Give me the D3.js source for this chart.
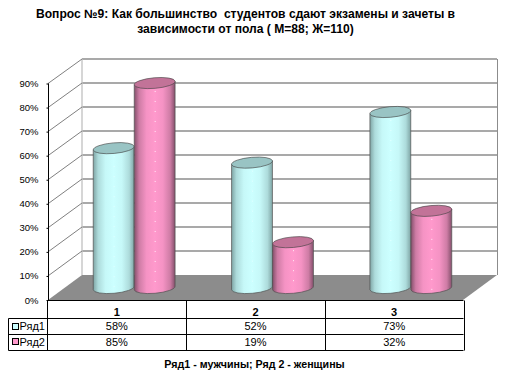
<!DOCTYPE html>
<html>
<head>
<meta charset="utf-8">
<script src="https://cdn.jsdelivr.net/npm/d3@7"></script>
<style>
  html, body { margin: 0; padding: 0; background: #fff; }
  svg { display: block; }
  text { font-family: "Liberation Sans", Arial, sans-serif; fill: #000; }
</style>
</head>
<body>
<div id="chart-area"></div>
<script>
const categories = ["1", "2", "3"];
const seriesNames = ["Ряд1", "Ряд2"];
const men = [58, 52, 73];
const women = [85, 19, 32];
const ticks = [0, 10, 20, 30, 40, 50, 60, 70, 80, 90];
const titleLines = [
  "Вопрос №9: Как большинство  студентов сдают экзамены и зачеты в",
  "зависимости от пола ( М=88; Ж=110)"
];
const footer = "Ряд1 - мужчины; Ряд 2 - женщины";

const seriesValues = [men, women];
const frameWidth = 507;
const frameHeight = 374;

// plot box corners
const frontLeft = 48, frontRight = 463, backLeft = 82, backRight = 497;

const svg = d3.select("#chart-area")
  .append("svg")
    .attr("width", frameWidth)
    .attr("height", frameHeight);

const defs = svg.append("defs");

// cylinder shading, dark edges and light middle
const shades = [
  { id: "shade0", edge: "#7fa5a5", mid: "#ccffff", top: "#99c4c4" },
  { id: "shade1", edge: "#84506b", mid: "#ff99cc", top: "#c27398" }
];
shades.forEach(s => {
  const grad = defs.append("linearGradient").attr("id", s.id);
  const soft = d3.interpolateRgb(s.edge, s.mid);
  [[0, s.edge], [0.12, soft(0.6)], [0.3, soft(0.92)], [0.5, s.mid], [0.7, soft(0.92)], [0.88, soft(0.6)], [1, s.edge]]
    .forEach(([o, c]) => grad.append("stop").attr("offset", o).attr("stop-color", c));
});

// three y scales: front edge, back wall and the plane the cylinders stand on
const yFront = d3.scaleLinear().domain([0, 90]).range([300, 83.5]);
const yBack = d3.scaleLinear().domain([0, 90]).range([275, 59]);
const yBar = d3.scaleLinear().domain([0, 90]).range([288, 71]);

const xBar = d3.scaleBand().domain(categories).range([65, 480]);
const xSeries = d3.scaleBand().domain(seriesNames).range([-41, 41]);

// title
titleLines.forEach((line, i) => {
  svg.append("text")
    .attr("x", 245.5)
    .attr("y", 18 + i * 15)
    .attr("font-size", "12.1px")
    .attr("font-weight", "bold")
    .attr("text-anchor", "middle")
    .style("white-space", "pre")
    .text(line);
});

// floor
svg.append("polygon")
  .attr("points", [[frontLeft, yFront(0)], [backLeft, yBack(0)], [backRight, yBack(0)], [frontRight, yFront(0)]].join(" "))
  .attr("fill", "#8c8c8c");

// back wall gridlines
svg.append("g").selectAll("line")
  .data(ticks.slice(1))
  .enter()
  .append("line")
    .attr("x1", backLeft).attr("x2", backRight)
    .attr("y1", d => yBack(d)).attr("y2", d => yBack(d))
    .attr("stroke", "#8c8c8c")
    .attr("stroke-width", 1.3);

svg.append("line")
  .attr("x1", backLeft).attr("x2", backLeft)
  .attr("y1", yBack(90)).attr("y2", yBack(0))
  .attr("stroke", "#c0c0c0").attr("stroke-width", 1.3);
svg.append("line")
  .attr("x1", backRight + 0.5).attr("x2", backRight + 0.5)
  .attr("y1", yBack(90)).attr("y2", yBack(0))
  .attr("stroke", "#8c8c8c").attr("stroke-width", 1);

// side wall lines
svg.append("g").selectAll("line")
  .data(ticks.slice(1))
  .enter()
  .append("line")
    .attr("x1", frontLeft).attr("x2", backLeft)
    .attr("y1", d => yFront(d)).attr("y2", d => yBack(d))
    .attr("stroke", "#808080");

// y axis
const yAxisCall = d3.axisLeft(yFront)
  .tickValues(ticks)
  .tickSize(2)
  .tickPadding(8)
  .tickFormat(d => `${d}%`);
const yAxis = svg.append("g")
  .attr("transform", `translate(${frontLeft + 0.5}, 0)`)
  .call(yAxisCall);
yAxis.selectAll("text").attr("font-size", "9.5px").attr("font-family", null);
yAxis.selectAll("line").attr("stroke", "#000");
yAxis.select(".domain").attr("stroke", "#000").attr("d", `M0,${yFront(90)}V${yFront(0)}`);

// cylinders
const rx = 20.5, ry = 5.3, tilt = -5;
const cosT = Math.cos(tilt * Math.PI / 180), sinT = Math.sin(tilt * Math.PI / 180);

categories.forEach((cat, c) => {
  seriesNames.forEach((name, s) => {
    const value = seriesValues[s][c];
    const cx = xBar(cat) + xBar.bandwidth() / 2 + xSeries(name) + xSeries.bandwidth() / 2;
    const top = yBar(value), base = yBar(0);
    const dx = rx * cosT, dy = rx * sinT;
    const g = svg.append("g");

    g.append("path")
      .attr("d", `M${cx - dx},${top - dy}L${cx - dx},${base - dy}`
        + `A${rx},${ry} ${tilt} 0 0 ${cx + dx},${base + dy}`
        + `L${cx + dx},${top + dy}Z`)
      .attr("fill", `url(#shade${s})`)
      .attr("stroke", "#505050")
      .attr("stroke-width", 0.7);

    // dotted highlight down the middle
    g.append("line")
      .attr("x1", cx + 0.5).attr("x2", cx + 0.5)
      .attr("y1", top + 8).attr("y2", base + 2)
      .attr("stroke", "#fff")
      .attr("stroke-width", 1)
      .attr("stroke-dasharray", "1 9")
      .attr("opacity", s === 0 ? 0.5 : 0.85);

    g.append("ellipse")
      .attr("cx", cx).attr("cy", top)
      .attr("rx", rx).attr("ry", ry)
      .attr("transform", `rotate(${tilt} ${cx} ${top})`)
      .attr("fill", shades[s].top)
      .attr("stroke", "#404040")
      .attr("stroke-width", 0.6);
  });
});

// data table under the plot
const tableLeft = 8.5, rowY = [300.5, 318.5, 334.5, 350.5];
const xTable = d3.scaleBand().domain(categories).range([frontLeft - 0.5, frontRight + 0.5]);
const table = svg.append("g");

const tableLines = [
  [xTable.range()[0], rowY[0], xTable.range()[0], rowY[3]],
  [tableLeft, rowY[1], tableLeft, rowY[3]],
  [tableLeft, rowY[1], xTable.range()[1], rowY[1]],
  [tableLeft, rowY[2], xTable.range()[1], rowY[2]],
  [tableLeft, rowY[3], xTable.range()[1], rowY[3]],
  [xTable.range()[0], rowY[0], xTable.range()[1], rowY[0]]
];
categories.forEach(cat => {
  const right = Math.round(xTable(cat) + xTable.bandwidth()) + 0.5;
  tableLines.push([right, rowY[0], right, rowY[3]]);
});
table.selectAll("line")
  .data(tableLines)
  .enter()
  .append("line")
    .attr("x1", d => d[0]).attr("y1", d => d[1])
    .attr("x2", d => d[2]).attr("y2", d => d[3])
    .attr("stroke", "#000");

const cellText = (x, y, str, anchor, weight) => table.append("text")
  .attr("x", x).attr("y", y)
  .attr("font-size", "11px")
  .attr("text-anchor", anchor)
  .attr("font-weight", weight)
  .text(str);

categories.forEach((cat, c) => {
  const cx = xTable(cat) + xTable.bandwidth() / 2;
  cellText(cx, 316, cat, "middle", "bold");
  seriesNames.forEach((name, s) => {
    cellText(cx, 330 + s * 16, `${seriesValues[s][c]}%`, "middle", "normal");
  });
});

seriesNames.forEach((name, s) => {
  table.append("rect")
    .attr("x", 12.5).attr("y", 323.5 + s * 15)
    .attr("width", 6).attr("height", 6)
    .attr("fill", shades[s].mid)
    .attr("stroke", "#000")
    .attr("stroke-width", 1);
  cellText(19.5, 330 + s * 16, name, "start", "normal");
});

// footer note
svg.append("text")
  .attr("x", 254.5)
  .attr("y", 368)
  .attr("font-size", "10.67px")
  .attr("font-weight", "bold")
  .attr("text-anchor", "middle")
  .text(footer);
</script>
</body>
</html>
